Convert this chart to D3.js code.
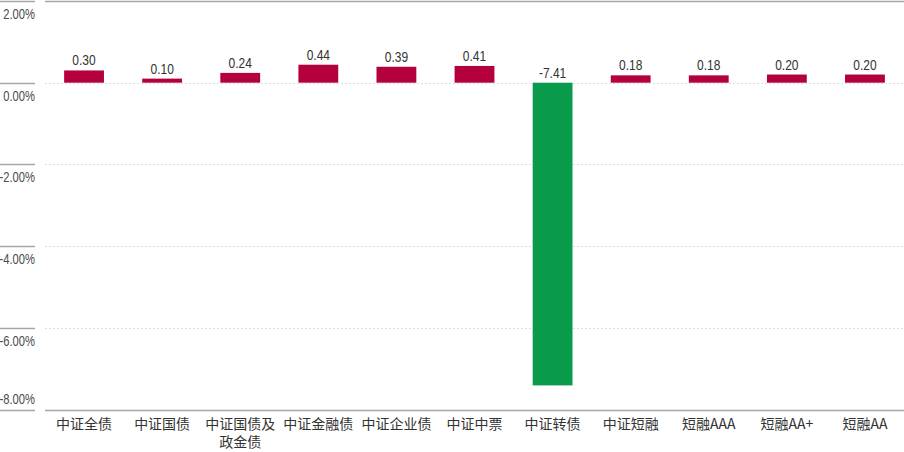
<!DOCTYPE html>
<html><head><meta charset="utf-8">
<script src="https://cdn.jsdelivr.net/npm/d3@7"></script>
<style>
body{margin:0;background:#fff;}
svg{display:block;}
</style></head>
<body>
<svg id="chart" width="904" height="452"></svg>
<script>
const categories = ["中证全债","中证国债","中证国债及\n政金债","中证金融债","中证企业债","中证中票","中证转债","中证短融","短融AAA","短融AA+","短融AA"];
const values = [0.30,0.10,0.24,0.44,0.39,0.41,-7.41,0.18,0.18,0.20,0.20];
const yTicks = [2,0,-2,-4,-6,-8];

const svg = d3.select("#chart");
const W = 904;
const y = d3.scaleLinear().domain([-8,2]).range([409.5,1]);
const x = d3.scaleBand().domain(categories).range([45,904]).paddingInner(0.49).paddingOuter(0.245);
const numFont = "'Liberation Sans',Arial,sans-serif";
const squeeze = 0.8;

// gridlines
svg.append("g").selectAll("line").data(yTicks).join("line")
  .attr("x1",45).attr("x2",W)
  .attr("y1",d=>Math.round(y(d))+0.5).attr("y2",d=>Math.round(y(d))+0.5)
  .attr("stroke",d=>(d===2||d===-8)?"#a6a6a6":"#dcdcdc")
  .attr("stroke-width",d=>(d===2||d===-8)?1.5:1)
  .attr("stroke-dasharray",d=>(d===2||d===-8)?null:"2,2");

// left tick marks
svg.append("g").selectAll("line").data(yTicks).join("line")
  .attr("x1",0).attr("x2",35)
  .attr("y1",d=>Math.round(y(d))+0.5).attr("y2",d=>Math.round(y(d))+0.5)
  .attr("stroke","#a6a6a6").attr("stroke-width",1.5);

// y labels
svg.append("g").selectAll("text").data(yTicks).join("text")
  .attr("transform",d=>`translate(35,${d===-8? y(d)-6 : y(d)+18}) scale(${squeeze},1)`)
  .attr("text-anchor","end")
  .attr("font-family",numFont).attr("font-size",14).attr("fill","#4a4a4a")
  .text(d=>d.toFixed(2)+"%");

// bars
svg.append("g").selectAll("rect").data(values).join("rect")
  .attr("x",(d,i)=>x(categories[i]))
  .attr("width",x.bandwidth())
  .attr("y",d=>y(Math.max(0,d)))
  .attr("height",d=>Math.abs(y(d)-y(0)))
  .attr("fill",d=>d<0?"#0a9a4c":"#b5003e");

// value labels
svg.append("g").selectAll("text").data(values).join("text")
  .attr("transform",(d,i)=>`translate(${x(categories[i])+x.bandwidth()/2},${y(Math.max(0,d))-5}) scale(${squeeze},1)`)
  .attr("text-anchor","middle")
  .attr("font-family",numFont).attr("font-size",15).attr("fill","#333")
  .text(d=>d.toFixed(2));

// x labels (one text per line)
const lines = [];
categories.forEach(c=>c.split("\n").forEach((s,i)=>lines.push({c,s,i})));
svg.append("g").selectAll("text").data(lines).join("text")
  .attr("x",d=>x(d.c)+x.bandwidth()/2)
  .attr("y",d=>429+d.i*18)
  .attr("text-anchor","middle")
  .attr("font-family","'Noto Sans CJK SC',sans-serif").attr("font-size",14).attr("fill","#333")
  .text(d=>d.s);
</script>
</body></html>
